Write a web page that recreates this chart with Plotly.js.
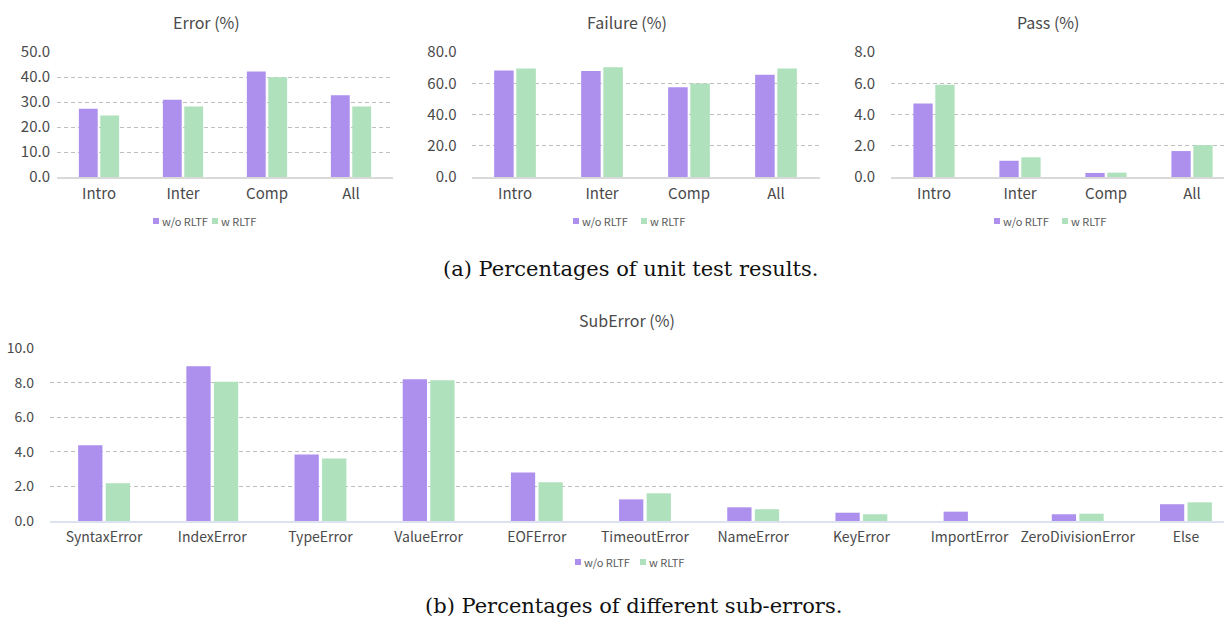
<!DOCTYPE html>
<html>
<head>
<meta charset="utf-8">
<script src="https://cdn.plot.ly/plotly-3.0.1.min.js"></script>
<style>
html,body{margin:0;padding:0;overflow:hidden;background:#fff;}
#chart{width:1240px;height:619px;}
</style>
</head>
<body>
<div id="chart"></div>
<script>
// ---- data ----
const groups = ["Intro", "Inter", "Comp", "All"];
const errorWo = [27.3, 30.9, 42.2, 32.7];
const errorW = [24.6, 28.2, 39.9, 28.2];
const failureWo = [68.1, 67.9, 57.4, 65.5];
const failureW = [69.4, 70.2, 59.8, 69.4];
const passWo = [4.70, 1.04, 0.26, 1.66];
const passW = [5.91, 1.26, 0.28, 2.04];
const subErrors = ["SyntaxError", "IndexError", "TypeError", "ValueError", "EOFError",
  "TimeoutError", "NameError", "KeyError", "ImportError", "ZeroDivisionError", "Else"];
const subWo = [4.38, 8.94, 3.84, 8.20, 2.80, 1.25, 0.79, 0.48, 0.54, 0.39, 0.97];
const subW = [2.18, 8.05, 3.61, 8.13, 2.24, 1.60, 0.68, 0.39, 0.00, 0.42, 1.08];
const seriesNames = ["w/o RLTF", "w RLTF"];

// ---- style ----
const W = 1240, H = 619;
const FONT = '"Noto Sans CJK SC", "Noto Sans", sans-serif';
const SERIF = '"DejaVu Serif", "Liberation Serif", serif';
const PURPLE = "#AD8FEE", GREEN = "#AEE1BC";
const TEXT = "#4A4A4A";
const px = x => x / W;
const py = y => 1 - y / H;

function bar(xs, ys, name, color, xa, ya) {
  return {
    type: "bar", x: xs, y: ys, name: name, xaxis: xa, yaxis: ya,
    marker: {color: color, line: {width: 0}},
    showlegend: false, hoverinfo: "x+y"
  };
}

const data = [
  bar(groups, errorWo, seriesNames[0], PURPLE, "x", "y"),
  bar(groups, errorW, seriesNames[1], GREEN, "x", "y"),
  bar(groups, failureWo, seriesNames[0], PURPLE, "x2", "y2"),
  bar(groups, failureW, seriesNames[1], GREEN, "x2", "y2"),
  bar(groups, passWo, seriesNames[0], PURPLE, "x3", "y3"),
  bar(groups, passW, seriesNames[1], GREEN, "x3", "y3"),
  bar(subErrors, subWo, seriesNames[0], PURPLE, "x4", "y4"),
  bar(subErrors, subW, seriesNames[1], GREEN, "x4", "y4")
];

function xaxis(domain, anchor, size, lineColor, lineWidth, standoff) {
  return {
    domain: domain, anchor: anchor, type: "category",
    showgrid: false, zeroline: false, ticks: "",
    showline: true, linecolor: lineColor, linewidth: lineWidth,
    tickfont: {family: FONT, size: size, color: TEXT},
    ticklabelstandoff: standoff, fixedrange: true
  };
}
function yaxis(domain, anchor, range, dtick, size, standoff) {
  return {
    domain: domain, anchor: anchor, range: range, dtick: dtick,
    tickformat: ".1f", showgrid: true, gridcolor: "#BFBFBF", gridwidth: 1,
    griddash: "4px,3px", zeroline: false, showline: false, ticks: "",
    tickfont: {family: FONT, size: size, color: TEXT},
    ticklabelstandoff: standoff, fixedrange: true
  };
}

const topY = [py(177), py(52)];
const botY = [py(521), py(348)];

const annotations = [];
function label(text, x, y, size, family, color, anchor) {
  annotations.push({
    text: text, xref: "paper", yref: "paper", x: px(x), y: py(y),
    xanchor: anchor || "center", yanchor: "middle", showarrow: false,
    font: {family: family, size: size, color: color}
  });
}
label("Error (%)", 206, 22, 16, FONT, TEXT);
label("Failure (%)", 627, 22, 16, FONT, TEXT);
label("Pass (%)", 1048, 22, 16, FONT, TEXT);
label("SubError (%)", 627, 320, 16, FONT, TEXT);
label("(a) Percentages of unit test results.", 630, 269, 21, SERIF, "#111");
label("(b) Percentages of different sub-errors.", 634, 606, 21, SERIF, "#111");

const shapes = [];
function legend(x1, x2, y) {
  shapes.push({type: "rect", xref: "paper", yref: "paper",
    x0: px(x1), x1: px(x1 + 6), y0: py(y + 3), y1: py(y - 3),
    fillcolor: PURPLE, line: {width: 0}});
  label(seriesNames[0], x1 + 7, y, 11, FONT, "#595959", "left");
  shapes.push({type: "rect", xref: "paper", yref: "paper",
    x0: px(x2), x1: px(x2 + 6), y0: py(y + 3), y1: py(y - 3),
    fillcolor: GREEN, line: {width: 0}});
  label(seriesNames[1], x2 + 7, y, 11, FONT, "#595959", "left");
}
legend(153, 212, 221);
legend(573, 641, 221);
legend(994, 1062, 221);
legend(575, 640, 562);

const layout = {
  width: W, height: H,
  margin: {l: 0, r: 0, t: 0, b: 0},
  paper_bgcolor: "#fff", plot_bgcolor: "rgba(0,0,0,0)",
  barmode: "group", bargap: 0.49, bargroupgap: 0.12,
  showlegend: false,
  xaxis: xaxis([px(57), px(393)], "y", 15, "#D9D9D9", 1.5, 2),
  yaxis: yaxis(topY, "x", [0, 50], 10, 15, 6),
  xaxis2: xaxis([px(471.5), px(819.5)], "y2", 15, "#D9D9D9", 1.5, 2),
  yaxis2: yaxis(topY, "x2", [0, 80], 20, 15, 14),
  xaxis3: xaxis([px(891), px(1235)], "y3", 15, "#D9D9D9", 1.5, 2),
  yaxis3: yaxis(topY, "x3", [0, 8], 2, 15, 15),
  xaxis4: xaxis([px(50), px(1240)], "y4", 14, "#DCE2F0", 2, 2),
  yaxis4: yaxis(botY, "x4", [0, 10], 2, 14, 15),
  annotations: annotations,
  shapes: shapes
};

Plotly.newPlot("chart", data, layout, {displayModeBar: false, staticPlot: true});
</script>
</body>
</html>
